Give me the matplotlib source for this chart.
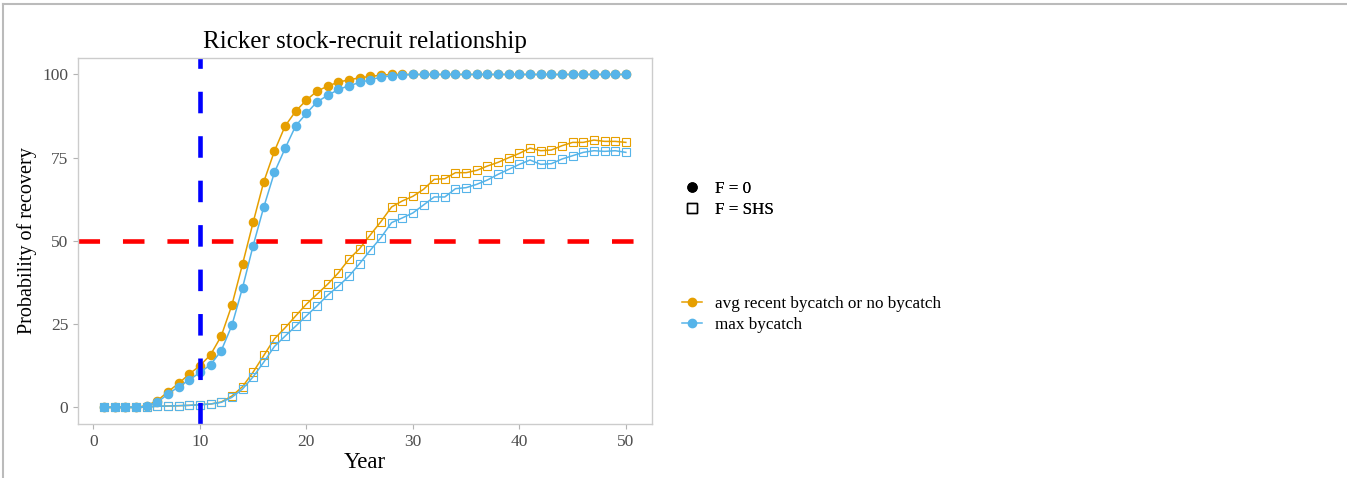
import numpy as np
import matplotlib.pyplot as plt
from matplotlib.lines import Line2D

plt.rcParams['font.family'] = ['Liberation Serif', 'DejaVu Serif']

years = np.arange(1, 51)

# probability of recovery (%), F = 0
avg_f0 = [0, 0, 0, 0, 0.5, 2, 4.7, 7.2, 10, 12.5,
          15.8, 21.4, 30.7, 43, 55.6, 67.8, 77, 84.5, 89, 92.3,
          95, 96.5, 97.7, 98.4, 99, 99.4, 99.8, 100, 100, 100,
          100, 100, 100, 100, 100, 100, 100, 100, 100, 100,
          100, 100, 100, 100, 100, 100, 100, 100, 100, 100]
max_f0 = [0, 0, 0, 0, 0.3, 1.5, 4, 6.2, 8.2, 10.5,
          12.8, 17, 24.6, 35.9, 48.6, 60.2, 70.6, 77.8, 84.6, 88.3,
          91.8, 93.7, 95.5, 96.6, 97.6, 98.4, 99.2, 99.6, 99.9, 100,
          100, 100, 100, 100, 100, 100, 100, 100, 100, 100,
          100, 100, 100, 100, 100, 100, 100, 100, 100, 100]

# probability of recovery (%), F = SHS
avg_shs = [0, 0, 0, 0, 0.2, 0.3, 0.4, 0.5, 0.6, 0.8,
           1.0, 1.6, 3.4, 6.2, 10.6, 15.6, 20.6, 23.9, 27.5, 31,
           34, 37, 40.4, 44.5, 47.7, 51.8, 55.8, 60.2, 62, 63.4,
           65.5, 68.5, 68.7, 70.5, 70.5, 71.2, 72.5, 73.6, 75, 76.3,
           77.9, 77.1, 77.3, 78.6, 79.6, 79.6, 80.3, 79.9, 79.9, 79.6]
max_shs = [0, 0, 0, 0, 0.2, 0.3, 0.4, 0.5, 0.6, 0.8,
           1.0, 1.5, 3.0, 5.5, 9.2, 13.6, 18.3, 21.4, 24.4, 27.5,
           30.5, 33.7, 36.4, 39.4, 43.2, 47.2, 51, 55.5, 56.9, 58.4,
           60.8, 63.2, 63.2, 65.7, 66, 67, 68.3, 70, 71.5, 73,
           74.3, 73, 73.2, 74.6, 75.6, 76.6, 77.1, 76.9, 77.1, 76.6]

orange = '#E69F00'
blue = '#56B4E9'

fig = plt.figure(figsize=(13.47, 4.78), dpi=100)
ax = fig.add_axes([0.0579, 0.113, 0.4261, 0.766])

for f0, shs, col in [(avg_f0, avg_shs, orange), (max_f0, max_shs, blue)]:
    ax.plot(years, shs, color=col, lw=1.1, marker='s', ms=6.2,
            mfc='none', mec=col, mew=0.8)
    ax.plot(years, f0, color=col, lw=1.1, marker='o', ms=5.9,
            mfc=col, mec=col)

ax.axhline(50, color='#FF0000', lw=3.3, dashes=(4.7, 5.0))
ax.axvline(10, color='#0000FF', lw=3.3, dashes=(4.7, 5.0))

ax.set_xlim(-1.45, 52.45)
ax.set_ylim(-5, 105)
ax.set_xticks([0, 10, 20, 30, 40, 50])
ax.set_yticks([0, 25, 50, 75, 100])
for s in ax.spines.values():
    s.set_color('#CCCCCC')
    s.set_linewidth(1.0)
ax.tick_params(colors='#B3B3B3', labelcolor='#4D4D4D', labelsize=12.5,
               length=3.5, width=0.8)

ax.set_title('Ricker stock-recruit relationship', fontsize=18, pad=7)
ax.set_xlabel('Year', fontsize=16.5, labelpad=2)
ax.set_ylabel('Probability of recovery', fontsize=14.5, labelpad=4)

# legends on the right
shape_handles = [
    Line2D([], [], ls='none', marker='o', ms=6.5, color='black'),
    Line2D([], [], ls='none', marker='s', ms=6.5, mfc='none', mec='black', mew=1.0),
]
leg1 = fig.legend(shape_handles, ['F = 0', 'F = SHS'], loc='upper left',
                  bbox_to_anchor=(0.4949, 0.654), frameon=False, fontsize=12.3,
                  handlelength=1.17, handletextpad=0.76, labelspacing=0.3)
fig.add_artist(leg1)

col_handles = [
    Line2D([], [], color=orange, lw=1.1, marker='o', ms=6),
    Line2D([], [], color=blue, lw=1.1, marker='o', ms=6),
]
fig.legend(col_handles, ['avg recent bycatch or no bycatch', 'max bycatch'],
           loc='upper left', bbox_to_anchor=(0.4949, 0.413), frameon=False,
           fontsize=12.3, handlelength=1.17, handletextpad=0.76, labelspacing=0.3)

# thin frame along top and left edges
fig.add_artist(Line2D([0.0025, 1], [0.991, 0.991], color='#BBBBBB', lw=1.5))
fig.add_artist(Line2D([0.0025, 0.0025], [0, 0.991], color='#BBBBBB', lw=1.5))

fig.savefig('out.png', dpi=100)
